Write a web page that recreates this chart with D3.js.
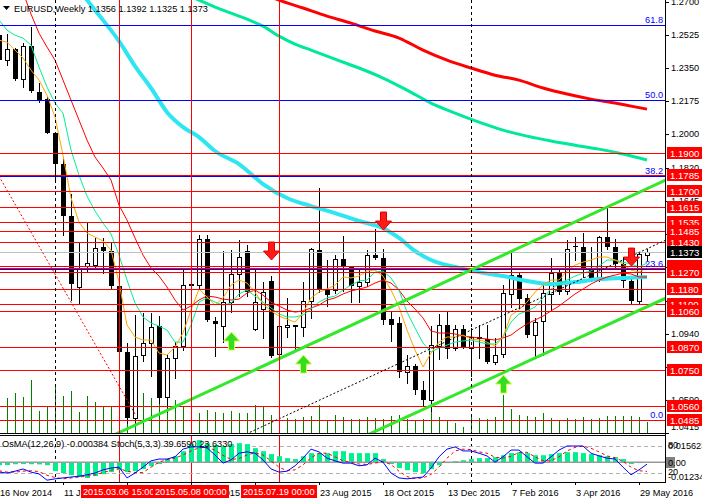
<!DOCTYPE html>
<html>
<head>
<meta charset="utf-8">
<script src="https://cdn.jsdelivr.net/npm/d3@7"></script>
<style>
  body { margin: 0; background: #fff; }
  svg { display: block; }
  text { font-family: "Liberation Sans", Arial, sans-serif; font-size: 9.2px; }
  .lab text { font-size: 9.6px; }
</style>
</head>
<body>
<svg id="chart" width="702" height="503"></svg>
<script>
// EURUSD weekly bars, index 0 = 16 Nov 2014 ... 81 = 5 Jun 2016
const open = [1.2525,1.2390,1.2450,1.2290,1.2465,1.2225,1.2185,1.2005,1.1840,1.1565,
  1.1190,1.1300,1.1305,1.1400,1.1380,1.1195,1.0845,1.0495,1.0825,1.0890,
  1.0980,1.0605,1.0810,1.0875,1.1200,1.1200,1.1445,1.1010,1.0985,1.1110,
  1.1260,1.1380,1.0965,1.1075,1.1220,1.0830,1.0980,1.0985,1.0975,1.1115,
  1.1385,1.1180,1.1173,1.1340,1.1300,1.1195,1.1215,1.1360,1.1345,1.1020,
  1.1000,1.0740,1.0770,1.0645,1.0590,1.0880,1.0990,1.0865,1.0965,1.0865,
  1.0925,1.0915,1.0795,1.0830,1.1155,1.1255,1.1130,1.0935,1.1005,1.1155,
  1.1265,1.1165,1.1405,1.1400,1.1285,1.1225,1.1455,1.1400,1.1310,1.1220,
  1.1115,1.1356];
const high = [1.2600,1.2530,1.2455,1.2480,1.2570,1.2270,1.2200,1.2010,1.1870,1.1680,
  1.1423,1.1534,1.1448,1.1450,1.1428,1.1240,1.0890,1.1043,1.1052,1.1050,
  1.1035,1.0830,1.0900,1.1290,1.1390,1.1466,1.1465,1.1030,1.1380,1.1385,
  1.1436,1.1410,1.1278,1.1216,1.1250,1.0990,1.1130,1.0990,1.1215,1.1395,
  1.1714,1.1330,1.1358,1.1460,1.1300,1.1290,1.1385,1.1495,1.1390,1.1055,
  1.1030,1.0830,1.0780,1.0690,1.0980,1.1045,1.1060,1.0990,1.0990,1.0970,
  1.0990,1.0990,1.0920,1.1200,1.1376,1.1270,1.1150,1.1025,1.1218,1.1342,
  1.1280,1.1438,1.1455,1.1475,1.1400,1.1460,1.1616,1.1445,1.1350,1.1245,
  1.1375,1.1392];
const low = [1.2360,1.2360,1.2280,1.2245,1.2220,1.2165,1.2000,1.1755,1.1460,1.1115,
  1.1098,1.1270,1.1280,1.1260,1.1180,1.0840,1.0462,1.0458,1.0790,1.0710,
  1.0570,1.0520,1.0700,1.0850,1.1065,1.1180,1.1005,1.0820,1.0890,1.1050,
  1.1135,1.1135,1.0955,1.0915,1.0810,1.0810,1.0920,1.0850,1.0925,1.1020,
  1.1155,1.1085,1.1150,1.1165,1.1105,1.1105,1.1190,1.1330,1.0990,1.0895,
  1.0705,1.0675,1.0615,1.0560,1.0524,1.0800,1.0805,1.0850,1.0860,1.0710,
  1.0805,1.0780,1.0775,1.0810,1.1080,1.1065,1.0920,1.0810,1.0822,1.1060,
  1.1145,1.1145,1.1325,1.1235,1.1215,1.1215,1.1385,1.1290,1.1185,1.1095,
  1.1098,1.1325];
const close = [1.2390,1.2450,1.2290,1.2465,1.2225,1.2185,1.2005,1.1840,1.1565,1.1205,
  1.1290,1.1315,1.1395,1.1380,1.1195,1.0845,1.0495,1.0825,1.0890,1.0975,
  1.0600,1.0810,1.0875,1.1200,1.1205,1.1445,1.1015,1.0995,1.1110,1.1260,
  1.1350,1.1165,1.1110,1.1165,1.0825,1.0980,1.0990,1.0975,1.1115,1.1390,
  1.1180,1.1150,1.1340,1.1305,1.1195,1.1215,1.1360,1.1345,1.1015,1.0990,
  1.0740,1.0770,1.0645,1.0590,1.0880,1.0990,1.0865,1.0965,1.0870,1.0925,
  1.0915,1.0795,1.0830,1.1155,1.1255,1.1130,1.0935,1.1005,1.1155,1.1265,
  1.1165,1.1390,1.1400,1.1285,1.1225,1.1455,1.1400,1.1310,1.1220,1.1115,
  1.1365,1.1373];
const volume = [30000,35000,40000,36000,53000,22000,26000,47000,37000,42000,
  21000,37000,31000,26000,27000,40000,43000,41000,40000,35000,
  37000,28000,33000,27000,30000,20000,23000,21000,20000,22000,
  20000,20000,28000,26000,18000,20000,15000,14000,16000,17000,
  28000,13000,18000,16000,14000,14000,16000,15000,14000,17000,
  18000,14000,13000,14000,26000,16000,12000,10000,6000,16000,
  15000,14000,16000,38000,24000,18000,17000,16000,20000,15000,
  13000,15000,14000,16000,14000,15000,17000,17000,17000,17000,
  16000,11000];

// moving averages
const maFast = [1.2498,1.2487,1.2445,1.2403,1.2339,1.2286,1.2206,1.2090,1.1888,1.1661,
  1.1533,1.1475,1.1454,1.1433,1.1385,1.1215,1.0987,1.0924,1.0908,1.0908,
  1.0839,1.0828,1.0871,1.0945,1.1067,1.1178,1.1136,1.1093,1.1131,1.1199,
  1.1226,1.1210,1.1162,1.1099,1.1062,1.1035,1.1019,1.1003,1.1051,1.1131,
  1.1162,1.1178,1.1199,1.1242,1.1237,1.1247,1.1274,1.1279,1.1247,1.1173,
  1.1083,1.0961,1.0855,1.0765,1.0839,1.0897,1.0924,1.0924,1.0934,1.0913,
  1.0908,1.0897,1.0876,1.0924,1.1040,1.1067,1.1109,1.1162,1.1199,1.1226,
  1.1226,1.1274,1.1305,1.1321,1.1332,1.1348,1.1348,1.1332,1.1311,1.1279,
  1.1268,1.1290];
const maMid = [1.2604,1.2551,1.2524,1.2509,1.2471,1.2355,1.2249,1.2164,1.2111,1.1915,
  1.1782,1.1671,1.1592,1.1528,1.1470,1.1358,1.1226,1.1104,1.1030,1.0998,
  1.0982,1.0961,1.0897,1.0897,1.0987,1.1109,1.1131,1.1109,1.1093,1.1104,
  1.1152,1.1173,1.1141,1.1109,1.1078,1.1046,1.1030,1.1030,1.1040,1.1072,
  1.1109,1.1131,1.1141,1.1173,1.1199,1.1221,1.1226,1.1268,1.1274,1.1237,
  1.1173,1.1056,1.0972,1.0892,1.0844,1.0866,1.0881,1.0897,1.0903,1.0908,
  1.0897,1.0887,1.0887,1.0924,1.1003,1.1046,1.1062,1.1083,1.1131,1.1178,
  1.1205,1.1226,1.1247,1.1263,1.1274,1.1300,1.1332,1.1332,1.1321,1.1311,
  1.1295,1.1316];
const maSlow = [null,null,null,1.2752,1.2636,1.2535,1.2461,1.2392,1.2286,1.2180,
  1.2074,1.1968,1.1878,1.1820,1.1756,1.1623,1.1544,1.1449,1.1358,1.1290,
  1.1247,1.1189,1.1120,1.1067,1.1088,1.1120,1.1141,1.1136,1.1125,1.1120,
  1.1125,1.1157,1.1173,1.1146,1.1109,1.1088,1.1067,1.1056,1.1062,1.1078,
  1.1093,1.1120,1.1131,1.1152,1.1168,1.1178,1.1189,1.1210,1.1226,1.1210,
  1.1173,1.1115,1.1072,1.1025,1.0956,1.0945,1.0945,1.0940,1.0929,1.0924,
  1.0919,1.0913,1.0908,1.0919,1.0934,1.0966,1.0993,1.1014,1.1035,1.1062,
  1.1088,1.1120,1.1152,1.1178,1.1205,1.1226,1.1242,1.1252,1.1263,1.1258,
  1.1242,1.1242];
const maCyanBars = [9,11,13,15,17,19,21,23,25,27,30,33,36,39,42,45,48,50,52,54,57,60,63,66,69,72,75,78,81];
const maCyan = [1.2816,1.2710,1.2604,1.2493,1.2360,1.2244,1.2116,1.2037,1.1984,1.1910,1.1841,1.1735,1.1661,1.1618,1.1581,
  1.1539,1.1501,1.1449,1.1380,1.1332,1.1295,1.1268,1.1247,1.1221,1.1205,1.1215,1.1231,1.1237,1.1242];
const maGreenBars = [23,25,27,29,31,33,35,37,39,42,45,48,51,54,57,60,63,66,69,72,75,78,81];
const maGreen = [1.2747,1.2710,1.2673,1.2641,1.2609,1.2572,1.2519,1.2477,1.2445,1.2397,1.2350,1.2297,
  1.2233,1.2164,1.2111,1.2063,1.2021,1.1989,1.1963,1.1941,1.1920,1.1894,1.1862];
const maRedBars = [33,35,38,41,44,47,50,53,56,59,62,65,68,71,74,77,79,81];
const maRed = [1.2742,1.2710,1.2668,1.2625,1.2588,1.2546,1.2509,1.2445,1.2392,1.2350,1.2312,1.2286,
  1.2244,1.2212,1.2185,1.2164,1.2148,1.2132];

// OsMA(12,26,9) and Stoch(5,3,3)
const osma = [-0.0019,-0.0018,-0.0013,-0.0012,-0.0013,-0.0014,-0.0019,-0.0056,-0.0068,-0.0081,
  -0.0093,-0.0099,-0.0087,-0.0075,-0.0062,-0.0050,-0.0062,-0.0056,-0.0043,-0.0025,
  -0.0012,0.0019,0.0037,0.0068,0.0112,0.0137,0.0118,0.0106,0.0099,0.0112,
  0.0118,0.0112,0.0087,0.0068,0.0050,0.0037,0.0025,0.0019,0.0037,0.0056,
  0.0056,0.0056,0.0068,0.0068,0.0056,0.0056,0.0056,0.0056,0.0019,-0.0012,
  -0.0037,-0.0050,-0.0062,-0.0068,-0.0043,-0.0019,-0.0006,0.0006,0.0012,0.0019,
  0.0025,0.0025,0.0031,0.0043,0.0056,0.0062,0.0056,0.0043,0.0043,0.0050,
  0.0056,0.0062,0.0062,0.0056,0.0050,0.0043,0.0037,0.0031,0.0019,-0.0012,
  -0.0006,-0.000384];
const stochMain = [22,20,24,29,22,18,4,7,9,11,
  13,16,20,27,31,33,9,20,33,47,
  51,51,56,73,78,78,76,60,42,49,
  64,67,64,49,29,22,24,36,53,73,
  67,53,47,42,42,36,38,53,44,20,
  9,7,9,11,31,56,73,78,69,69,
  64,58,44,56,71,71,56,42,42,56,
  71,80,80,80,64,58,53,51,33,16,
  27,39.66];
const stochSignal = [25,22,22,24,25,23,15,10,7,9,
  11,13,16,21,26,30,24,21,21,33,
  44,50,53,60,69,76,77,71,59,50,
  52,60,65,60,47,33,25,27,38,54,
  64,64,56,47,44,40,39,42,45,39,
  24,12,8,9,17,33,53,69,73,72,
  67,64,55,53,57,66,66,56,47,47,
  56,69,77,80,75,67,58,54,46,33,
  25,23.63];

// drawn objects
const redLevels = [1.1900,1.1785,1.1700,1.1615,1.1535,1.1485,1.1430,1.1300,1.1290,1.1270,1.1180,1.1100,1.1060,1.0870,1.0750,1.0560,1.0485];
const fibLevels = [0, 23.6, 38.2, 50.0, 61.8];
const fibLow = 1.0485, fibHigh = 1.3871;
const lastPrice = 1.1373;
const priceTicks = [1.2700,1.2525,1.2350,1.2175,1.2000,1.1820,1.1645,1.1470,1.1295,1.1115,1.0940,1.0765,1.0590,1.0415];
const timeLabelBars = [0,8,16,24,32,40,48,56,64,72,80];
const timeLabels = ["16 Nov 2014","11 Jan 2015","8 Mar 2015","3 May 2015","28 Jun 2015","23 Aug 2015",
  "18 Oct 2015","13 Dec 2015","7 Feb 2016","3 Apr 2016","29 May 2016"];
const markerBars = [15,24,35];
const markerLabels = ["2015.03.06 15:00","2015.05.08 00:00","2015.07.19 00:00"];
const separatorBars = [7,59];
const channelTop = [[20,1.0515],[76,1.1612]];
const channelBottom = [[53,1.0540],[80,1.1065]];
const midTrend = [[35,1.0490],[80,1.1372]];
const redTrend = [[-1,1.1851],[17,1.0516]];
const upArrows = [[29,1.0950],[38,1.0828],[63,1.0722]];
const downArrows = [[34,1.1332],[48,1.1491],[79,1.1300]];

const svg = d3.select("#chart");
const plotW = 665, mainH = 433, subTop = 437, subBottom = 482;

const x = d3.scaleLinear().domain([0, 81]).range([-1, 647]);
const y = d3.scaleLinear().domain([1.0415, 1.2700]).range([mainH, 2]);
const yVol = d3.scaleLinear().domain([0, 100000]).range([mainH, mainH - 100]);
const yOsma = d3.scaleLinear().domain([-0.012344, 0.015623]).range([subBottom, subTop]);
const yStoch = d3.scaleLinear().domain([0, 100]).range([subBottom, subTop]);
const bars = d3.range(open.length);
const py = v => Math.round(y(v)) + 0.5;

const defs = svg.append("defs");
defs.append("clipPath").attr("id", "clipMain").append("rect")
    .attr("x", 0).attr("y", 0).attr("width", plotW).attr("height", mainH);
defs.append("clipPath").attr("id", "clipSub").append("rect")
    .attr("x", 0).attr("y", subTop).attr("width", plotW).attr("height", subBottom - subTop);

const main = svg.append("g").attr("clip-path", "url(#clipMain)");

// volumes
main.selectAll(".vol").data(bars).enter().append("line")
    .attr("x1", i => x(i) + 0.5).attr("x2", i => x(i) + 0.5)
    .attr("y1", mainH).attr("y2", i => yVol(volume[i]))
    .attr("stroke", "#008000");

// candles
const candle = main.selectAll(".candle").data(bars).enter().append("g")
    .attr("shape-rendering", "crispEdges");
candle.append("line")
    .attr("x1", i => x(i) + 0.5).attr("x2", i => x(i) + 0.5)
    .attr("y1", i => y(high[i])).attr("y2", i => y(low[i]))
    .attr("stroke", "#000");
candle.append("rect")
    .attr("x", i => close[i] >= open[i] ? x(i) - 1.5 : x(i) - 2)
    .attr("width", i => close[i] >= open[i] ? 4 : 5)
    .attr("y", i => Math.round(y(Math.max(open[i], close[i]))) + (close[i] >= open[i] ? 0.5 : 0))
    .attr("height", i => Math.max(1, Math.round(Math.abs(y(open[i]) - y(close[i])))))
    .attr("fill", i => close[i] >= open[i] ? "#fff" : "#000")
    .attr("stroke", i => close[i] >= open[i] ? "#000" : "none");

// moving averages
const barLine = d3.line().defined(d => d[1] != null).x(d => x(d[0])).y(d => y(d[1]));
const smoothLine = d3.line().x(d => x(d[0])).y(d => y(d[1])).curve(d3.curveMonotoneX);
[[maRedBars, maRed, "#ff0000", 3], [maGreenBars, maGreen, "#00e89a", 3], [maCyanBars, maCyan, "#2ee6f2", 4]]
    .forEach(([b, v, c, w]) => {
        main.append("path").datum(b.map((k, j) => [k, v[j]])).attr("d", smoothLine)
            .attr("fill", "none").attr("stroke", c).attr("stroke-width", w);
    });
[[maSlow, "#ff0000"], [maMid, "#00f090"], [maFast, "#ffa500"]].forEach(([v, c]) => {
    main.append("path").datum(v.map((p, i) => [i, p])).attr("d", barLine)
        .attr("fill", "none").attr("stroke", c).attr("stroke-width", 1);
});

// horizontal objects
main.append("line").attr("x1", 0).attr("x2", plotW).attr("y1", py(lastPrice)).attr("y2", py(lastPrice))
    .attr("stroke", "#c0c0c0");
main.selectAll(".fib").data(fibLevels).enter().append("line")
    .attr("x1", 0).attr("x2", plotW)
    .attr("y1", d => py(fibLow + (fibHigh - fibLow) * d / 100))
    .attr("y2", d => py(fibLow + (fibHigh - fibLow) * d / 100))
    .attr("stroke", "#0000ff");
main.selectAll(".lvl").data(redLevels).enter().append("line")
    .attr("x1", 0).attr("x2", plotW).attr("y1", py).attr("y2", py)
    .attr("stroke", "#ff0000");

// trend lines
function extend(a, b, k0, k1) {
    const s = (b[1] - a[1]) / (b[0] - a[0]);
    return [[k0, a[1] + s * (k0 - a[0])], [k1, a[1] + s * (k1 - a[0])]];
}
const straight = d3.line().x(d => x(d[0])).y(d => y(d[1]));
main.append("path").attr("d", straight(extend(...midTrend, 30, 84)))
    .attr("stroke", "#000").attr("stroke-dasharray", "2,2").attr("fill", "none");
main.append("path").attr("d", straight(redTrend))
    .attr("stroke", "#ff0000").attr("stroke-dasharray", "2,2").attr("fill", "none");
[channelTop, channelBottom].forEach(c => {
    main.append("path").attr("d", straight(extend(...c, 10, 84)))
        .attr("stroke", "#33e82a").attr("stroke-width", 3).attr("fill", "none");
});

// arrows
main.selectAll(".up").data(upArrows).enter().append("path")
    .attr("transform", d => `translate(${x(d[0]) + 0.5},${y(d[1])})`)
    .attr("d", "M0,0L8,9L3,9L3,18L-3,18L-3,9L-8,9Z")
    .attr("fill", "#33dd22").attr("stroke", "#ccff44").attr("stroke-width", 1);
main.selectAll(".down").data(downArrows).enter().append("path")
    .attr("transform", d => `translate(${x(d[0]) + 0.5},${y(d[1])})`)
    .attr("d", "M0,0L8,-9L3,-9L3,-18L-3,-18L-3,-9L-8,-9Z")
    .attr("fill", "#ff1a1a").attr("stroke", "#e00000").attr("stroke-width", 1);

// fib labels
main.selectAll(".fibt").data(fibLevels).enter().append("text")
    .attr("x", 663).attr("y", d => py(fibLow + (fibHigh - fibLow) * d / 100) - 2.5)
    .attr("text-anchor", "end").attr("fill", "#0000ff")
    .text(d => d.toFixed(1));

// vertical lines through both panels
svg.selectAll(".vsep").data(separatorBars).enter().append("line")
    .attr("x1", k => x(k) + 0.5).attr("x2", k => x(k) + 0.5)
    .attr("y1", 0).attr("y2", subBottom)
    .attr("stroke", "#000").attr("stroke-dasharray", "3,3");
svg.selectAll(".vmark").data(markerBars).enter().append("line")
    .attr("x1", k => x(k) + 0.5).attr("x2", k => x(k) + 0.5)
    .attr("y1", 0).attr("y2", subBottom)
    .attr("stroke", "#ff0000");

// indicator window
const sub = svg.append("g").attr("clip-path", "url(#clipSub)");
[80, 20].forEach(v => {
    sub.append("line").attr("x1", 0).attr("x2", plotW)
        .attr("y1", Math.round(yStoch(v)) + 0.5).attr("y2", Math.round(yStoch(v)) + 0.5)
        .attr("stroke", "#b0b0b0").attr("stroke-dasharray", "4,3");
});
sub.selectAll(".hist").data(bars).enter().append("rect")
    .attr("x", i => x(i) - 2).attr("width", 5)
    .attr("y", i => Math.min(yOsma(0), yOsma(osma[i])))
    .attr("height", i => Math.abs(yOsma(osma[i]) - yOsma(0)))
    .attr("fill", "#00f08c");
sub.append("line").attr("x1", 0).attr("x2", plotW)
    .attr("y1", yOsma(0)).attr("y2", yOsma(0))
    .attr("stroke", "#999").attr("stroke-width", 1.5);
const stochLine = d3.line().x((d, i) => x(i)).y(d => yStoch(d));
sub.append("path").datum(stochSignal).attr("d", stochLine)
    .attr("fill", "none").attr("stroke", "#ff0000").attr("stroke-dasharray", "3,3");
sub.append("path").datum(stochMain).attr("d", stochLine)
    .attr("fill", "none").attr("stroke", "#0000ff");

// frame
svg.append("rect").attr("x", 0).attr("y", 433).attr("width", plotW).attr("height", 3).attr("fill", "#000");
svg.append("rect").attr("x", 0).attr("y", 434).attr("width", plotW).attr("height", 1).attr("fill", "#fff");
svg.append("line").attr("x1", 0).attr("x2", plotW + 1).attr("y1", subBottom + 0.5).attr("y2", subBottom + 0.5).attr("stroke", "#000");
svg.append("line").attr("x1", plotW + 0.5).attr("x2", plotW + 0.5).attr("y1", 0).attr("y2", subBottom).attr("stroke", "#000");

// price axis
const axis = svg.append("g").attr("transform", `translate(${plotW + 1},0)`)
    .call(d3.axisRight(y).tickValues(priceTicks).tickSize(3).tickPadding(2).tickFormat(d3.format(".4f")));
axis.select(".domain").remove();
axis.selectAll("text").attr("fill", "#000")
    .attr("y", d => d === 1.0415 ? -6 : 0);

// level labels
const lab = svg.selectAll(".lab").data(redLevels).enter().append("g").attr("class", "lab")
    .attr("transform", d => `translate(667,${Math.round(y(d))})`);
lab.append("rect").attr("x", 0).attr("y", -6).attr("width", 35).attr("height", 12).attr("fill", "#ff0000");
lab.append("text").attr("x", 3).attr("y", 3.6).attr("fill", "#fff").text(d => d.toFixed(4));
const cur = svg.append("g").attr("class", "lab").attr("transform", `translate(667,${Math.round(y(lastPrice))})`);
cur.append("rect").attr("x", 0).attr("y", -6).attr("width", 35).attr("height", 12).attr("fill", "#000");
cur.append("text").attr("x", 3).attr("y", 3.6).attr("fill", "#fff").text(lastPrice.toFixed(4));

// indicator scale labels
svg.append("text").attr("x", 668).attr("y", 449).text("0.015623");
svg.append("text").attr("x", 668).attr("y", 448).text("80");
svg.append("rect").attr("x", 666).attr("y", 457).attr("width", 9).attr("height", 11).attr("fill", "#808080");
svg.append("text").attr("x", 668).attr("y", 466).text("0.00");
svg.append("text").attr("x", 668).attr("y", 475).text("20");
svg.append("text").attr("x", 668).attr("y", 480).text("-0.012344");

// time axis
svg.selectAll(".tt").data(timeLabelBars).enter().append("line")
    .attr("x1", k => x(k) + 0.5).attr("x2", k => x(k) + 0.5)
    .attr("y1", subBottom).attr("y2", subBottom + 3).attr("stroke", "#000");
svg.selectAll(".tl").data(timeLabelBars).enter().append("text")
    .attr("x", k => x(k) + 1).attr("y", 496)
    .text((k, i) => timeLabels[i]);
const mk = svg.selectAll(".mk").data(markerBars).enter().append("g")
    .attr("transform", k => `translate(${x(k) - 38},485)`);
mk.append("rect").attr("width", 76).attr("height", 13).attr("fill", "#ff0000");
mk.append("text").attr("x", 2).attr("y", 10).attr("fill", "#fff").text((k, i) => markerLabels[i]);

// titles
svg.append("path").attr("d", "M3,6L10,6L6.5,10Z").attr("fill", "#000");
svg.append("text").attr("x", 14).attr("y", 12).text("EURUSD,Weekly  1.1356 1.1392 1.1325 1.1373");
svg.append("text").attr("x", 2).attr("y", 447).text("OsMA(12,26,9) -0.000384  Stoch(5,3,3) 39.6590 23.6330");
</script>
</body>
</html>
